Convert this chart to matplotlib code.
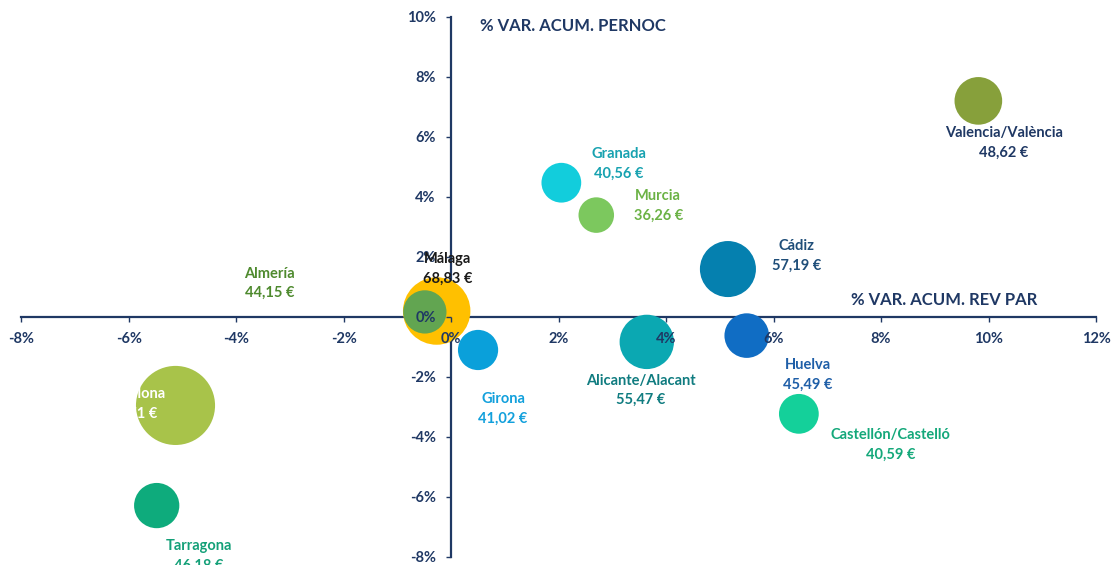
import matplotlib.pyplot as plt
import numpy as np
from matplotlib.ticker import FuncFormatter

# provinces, RevPAR (bubble size), % var. RevPAR (x), % var. pernoctaciones (y)
provinces = ['Valencia/València', 'Granada', 'Murcia', 'Cádiz', 'Málaga',
             'Almería', 'Girona', 'Alicante/Alacant', 'Huelva',
             'Castellón/Castelló', 'Barcelona', 'Tarragona']
revpar = [48.62, 40.56, 36.26, 57.19, 68.83, 44.15, 41.02, 55.47, 45.49,
          40.59, 80.71, 46.18]
var_revpar = [9.81, 2.05, 2.70, 5.15, -0.27, -0.49, 0.50, 3.64, 5.50,
              6.47, -5.13, -5.48]
var_pernoc = [7.20, 4.47, 3.39, 1.59, 0.19, 0.16, -1.11, -0.84, -0.63,
              -3.24, -2.96, -6.30]

bubble_colors = ['#87A03B', '#12CDDC', '#7CC85E', '#0580AF', '#FFC000',
                 '#62A551', '#0AA0DA', '#0BA8B2', '#106DC4', '#14D09A',
                 '#A8C34A', '#0EAB7C']
label_colors = ['#1F3864', '#17A2B0', '#6BB245', '#1F4E79', '#1A1A1A',
                '#4E8A2E', '#12A0DC', '#107C80', '#1F5FA8', '#14A87A',
                '#FFFFFF', '#14A078']
# label offsets from bubble centre, in points
label_offsets = [(18.4, -30.3), (41.4, 13.6), (44.6, 6.8), (49.3, 9.3),
                 (7.9, 30.5), (-111.6, 20.5), (18, -42.2), (-4.3, -35),
                 (43.9, -28.1), (66.2, -22.4), (-30.6, 1), (30.2, -36.4)]

navy = '#1F3864'
plt.rcParams['font.family'] = ['Lato', 'DejaVu Sans']

fig = plt.figure(figsize=(11.2, 5.65), dpi=100)
ax = fig.add_axes([0.019, 0.015, 0.9596, 0.955])

sizes = [(0.98 * v * 0.72) ** 2 for v in revpar]
ax.scatter(var_revpar, var_pernoc, s=sizes, c=bubble_colors,
           edgecolors='none', zorder=3)

for i, name in enumerate(provinces):
    txt = name + '\n' + f'{revpar[i]:.2f}'.replace('.', ',') + ' €'
    ax.annotate(txt, (var_revpar[i], var_pernoc[i]),
                xytext=label_offsets[i], textcoords='offset points',
                ha='center', va='center', multialignment='center',
                fontsize=10.5, fontweight='bold', color=label_colors[i],
                linespacing=1.5, zorder=5, annotation_clip=False)

ax.set_xlim(-8, 12)
ax.set_ylim(-8, 10)
ax.set_xticks(np.arange(-8, 13, 2))
ax.set_yticks(np.arange(-8, 11, 2))
fmt = FuncFormatter(lambda v, p: f'{v:.0f}%')
ax.xaxis.set_major_formatter(fmt)
ax.yaxis.set_major_formatter(fmt)

ax.spines['left'].set_position(('data', 0))
ax.spines['bottom'].set_position(('data', 0))
ax.spines['top'].set_visible(False)
ax.spines['right'].set_visible(False)
for s in ['left', 'bottom']:
    ax.spines[s].set_color(navy)
    ax.spines[s].set_linewidth(1.6)
    ax.spines[s].set_zorder(2)

ax.tick_params(axis='both', direction='out', length=3.6, width=1,
               color=navy, labelcolor=navy, labelsize=10.5, pad=7.5)
for lab in ax.get_xticklabels() + ax.get_yticklabels():
    lab.set_fontweight('bold')
ax.xaxis.set_zorder(4)
ax.yaxis.set_zorder(4)
ax.patch.set_visible(False)

ax.text(0.53, 9.7, '% VAR. ACUM. PERNOC', ha='left', va='center',
        fontsize=12, fontweight='bold', color=navy)
ax.text(10.9, 0.55, '% VAR. ACUM. REV PAR', ha='right', va='center',
        fontsize=12, fontweight='bold', color=navy)

fig.savefig('out.png', dpi=100)
